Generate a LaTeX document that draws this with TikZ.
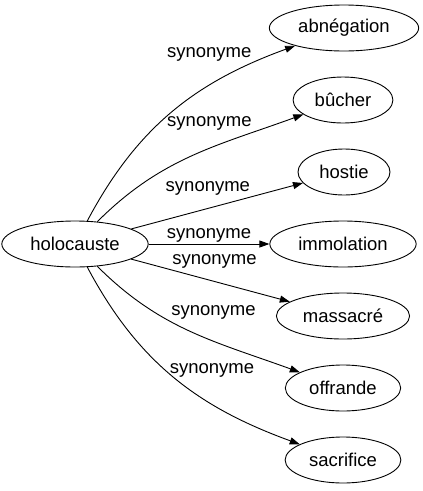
\documentclass[tikz,border=0pt]{standalone}
\usepackage{fontspec}
\setmainfont{Liberation Sans}
\usetikzlibrary{shapes.geometric,arrows.meta}

\begin{document}
\begin{tikzpicture}[x=1pt,y=1pt,line width=.9pt]
        \useasboundingbox (0,0) rectangle (423,-491);

        \begin{scope}[every node/.style={ellipse,draw,font=\fontsize{18.5}{20}\selectfont,
            minimum height=46pt,minimum width=92pt,inner xsep=7pt,inner ysep=2pt}]
          \node (holocauste) at (75,-244)  {holocauste};
          \node (abnegation) at (344,-28)  {abnégation};
          \node (bucher)     at (343,-100) {bûcher};
          \node (hostie)     at (344,-172) {hostie};
          \node (immolation) at (343,-244) {immolation};
          \node (massacre)   at (343,-316) {massacré};
          \node (offrande)   at (343,-388) {offrande};
          \node (sacrifice)  at (343,-460) {sacrifice};
        \end{scope}

        \begin{scope}[every node/.style={font=\fontsize{18.5}{20}\selectfont,inner sep=1pt}]

          \begin{scope}[every edge/.style={draw,-{Triangle[length=10pt,width=7pt]}}]
            \path (holocauste) edge[out=62,in=200] node[pos=.85,anchor=south east] {synonyme} (abnegation);
            \path (holocauste) edge[out=45,in=200] node[pos=.79,anchor=south east] {synonyme} (bucher);
            \path (holocauste) edge node[pos=.7,anchor=south east] {synonyme} (hostie);
            \path (holocauste) edge node[above] {synonyme} (immolation);
            \path (holocauste) edge node[pos=.25,anchor=south west] {synonyme} (massacre);
            \path (holocauste) edge[out=-45,in=160] node[pos=.39,anchor=south west] {synonyme} (offrande);
            \path (holocauste) edge[out=-62,in=160] node[pos=.47,anchor=south west,yshift=-6pt] {synonyme} (sacrifice);
          \end{scope}
        \end{scope}

      \end{tikzpicture}
\end{document}
